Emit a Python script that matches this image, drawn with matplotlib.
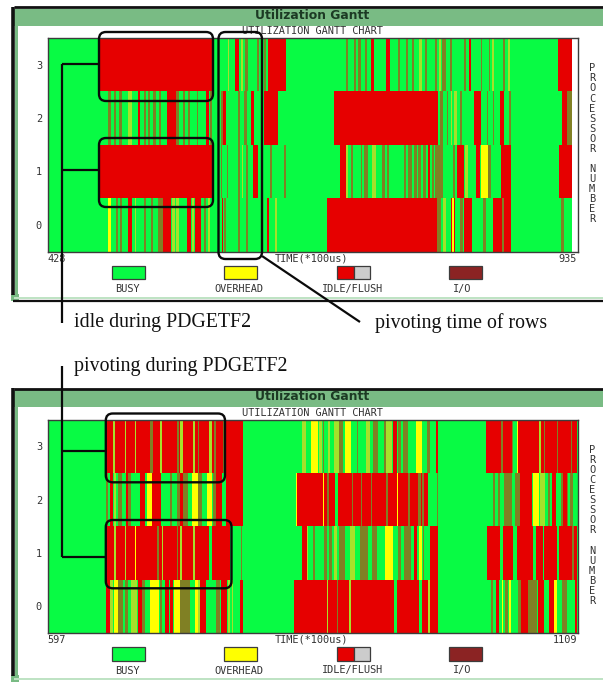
import matplotlib
matplotlib.use("Agg")
import matplotlib.pyplot as plt
from matplotlib.patches import FancyBboxPatch, Rectangle

# ---------- data: (start, end) in TIME units (*100us) ----------
A_START, A_END = 428, 935
B_START, B_END = 597, 1109
PROCESSORS = [0, 1, 2, 3]
LEGEND_LABELS = ["BUSY", "OVERHEAD", "IDLE/FLUSH", "I/O"]

# upper chart
A3_RED = [(478, 587.7), (609.3, 613.1), (641.5, 659), (740.7, 744), (755.2, 759.1), (835.5, 837.4), (921.8, 934.7)]
A3_OLIVE = [(619, 621.5), (630.5, 632.5), (637.6, 639.5), (716.2, 718.2), (724.6, 725.9), (728.5, 730.7), (734.9, 736.5),
            (767.2, 769.1), (774.2, 776.2), (780, 782), (792.9, 794.5), (802.6, 804.2), (809, 813), (817, 819.3),
            (830.6, 832.6), (846.7, 847.7), (854.8, 855.8), (868.6, 870.3)]
A3_LIME = [(602.2, 603.5), (615, 616.5), (787, 789.7), (806.5, 808.4), (858, 859.3), (873.5, 875.1)]
A3_YELLOW = []

A2_RED = [(515.8, 517.7), (543.5, 551.9), (580.9, 584.1), (598, 600.2), (624.4, 627.6), (637, 651), (705.3, 805.8),
          (840, 846.7), (865.7, 869.6), (925, 930.2)]
A2_OLIVE = [(486.8, 489.4), (492.6, 494.2), (497.1, 499.7), (521.3, 523.2), (525.5, 527.4), (530.3, 532.6), (536.1, 537.4),
            (552.6, 555.1), (559, 561), (564.2, 565.8), (572.2, 573.8), (584.8, 586.7), (595.7, 597.3), (611.8, 614.1),
            (617.6, 620.5), (807.4, 810.6), (813.9, 815.5), (826.8, 829), (852.9, 854.1), (858.6, 859.6), (874.1, 875.7),
            (930.2, 934.7)]
A2_LIME = [(505.5, 509.4), (818, 819.3), (821.3, 823.5)]
A2_YELLOW = []

A1_RED = [(478, 587.7), (626.3, 631.2), (711.1, 716.2), (795.5, 797.8), (824.2, 830.6), (841.9, 846.1), (866.4, 875.7), (922.8, 934.7)]
A1_OLIVE = [(595.7, 597), (601.2, 602.5), (612.5, 614.1), (620.2, 621.5), (642.8, 644.7), (656.6, 658.2), (721.4, 723.7),
            (731, 732.4), (734.3, 737.5), (751, 754.3), (755.9, 758.1), (773, 774.2), (776.2, 780), (782.3, 784.9),
            (786.5, 789), (791, 793.6), (799.4, 802), (802.6, 810.6), (820.3, 821.9), (854.1, 856.7)]
A1_LIME = [(615.7, 617), (716.2, 718.2), (741.4, 745.2), (831.6, 834.2)]
A1_YELLOW = [(847, 853.5)]

A0_RED = [(506.2, 510), (540, 547), (562.5, 566.4), (570.6, 576), (596.4, 598), (639.9, 642.4), (698.2, 804.2),
          (818, 822), (831, 838.7), (859, 867.7), (869.6, 875.7)]
A0_OLIVE = [(493.9, 495.8), (498, 500.3), (521.3, 523.2), (528, 530), (535.2, 539.3), (579.6, 581.5), (599, 600.2),
            (612.5, 614.1), (619.9, 622.1), (804.8, 808.4), (827, 830), (848.7, 851.9), (867.7, 869.6), (924.4, 927.6)]
A0_LIME = [(512.6, 514), (548.7, 551.3), (552.2, 555.5), (567.4, 569.6), (583.5, 585.4), (647.9, 649.9), (810.3, 812.9)]
A0_YELLOW = [(486.8, 489.1), (819, 820.5)]

# lower chart
B3_RED = [(653.5, 786.2), (931.1, 934.6), (972, 974.6), (1020.9, 1045.4), (1050.2, 1108.2)]
B3_OLIVE = [(696, 698.6), (721.8, 724.4), (742.1, 743.4), (757.9, 759.5), (766.9, 769.1), (863.1, 864.4), (878.6, 882.8),
            (895.7, 897.3), (911.8, 916), (922.4, 924.3), (935.3, 938.5), (940.1, 944.9), (963.3, 966.5), (1035.1, 1036.7),
            (1045.4, 1047), (1076.3, 1077.6), (1088.9, 1090.5), (1102.4, 1104)]
B3_LIME = [(660.6, 661.9), (671.9, 673.2), (681.5, 682.8), (705.7, 707.3), (725, 727.6), (737.9, 739.2), (753, 755.6),
           (843.2, 846.4), (859.3, 861.8), (867.6, 869.6), (874.1, 878.6), (904.3, 908.5), (924.3, 930.1), (1071.8, 1073.7)]
B3_YELLOW = [(852, 858), (884.4, 890.2), (952.6, 958.4), (1050.5, 1051.8)]
B3_GREEN = []

B2_RED = [(657.4, 660.6), (673, 675), (686.4, 691.2), (698.3, 706.3), (725, 728.2), (760, 765.3), (769.1, 786.2),
          (836.7, 964.9), (1053.4, 1064.7), (1084, 1087.9), (1095, 1099)]
B2_OLIVE = [(653.5, 655.8), (664.8, 668.7), (672.8, 673), (675, 677.7), (715.4, 717), (721.8, 725), (728.2, 733.1),
            (742.1, 746), (757.2, 760), (867, 869), (890.8, 892.1), (899.5, 900.5), (909.5, 910.8), (923.7, 925.6),
            (945.6, 947.2), (955.2, 957.8), (959.1, 961), (973, 974.6), (1027.3, 1029.3), (1032.5, 1034.1),
            (1038.3, 1045.4), (1048.6, 1053.4), (1080.8, 1082.7), (1093, 1095), (1099, 1100.1), (1101.7, 1105)]
B2_LIME = [(661.2, 662.8), (1072.7, 1077.6)]
B2_YELLOW = [(692.8, 697.6), (736.3, 742.1), (751.4, 755.6), (836.7, 837.7), (863.1, 864.4), (934.6, 935.6), (1066.3, 1071.8)]
B2_GREEN = [(874.7, 878)]

B1_RED = [(653.5, 773.3), (842.5, 847.4), (951.4, 953.6), (966.5, 974.6), (1021.2, 1034.1), (1036.7, 1047), (1050.5, 1066.3),
          (1068.6, 1075.3), (1076.3, 1088.9), (1091.4, 1108.2)]
B1_OLIVE = [(702.5, 705.1), (721.8, 722.8), (783.9, 785.2), (853.8, 855.4), (864.4, 867), (869, 871.5), (878.6, 884.4),
            (898.9, 906.3), (910.1, 915), (935.9, 938.5), (941.7, 948.1), (959.4, 961), (1103.3, 1105.3)]
B1_LIME = [(661.6, 662.9), (671.9, 673.2), (707.3, 708.6), (725, 726.6), (737.9, 739.5), (847.7, 849), (874.1, 876.7), (889.2, 894)]
B1_YELLOW = [(681.5, 682.8), (923, 931.1), (955.9, 958.4)]
B1_GREEN = [(753, 756.2)]

B0_RED = [(653.5, 657.4), (684.8, 688), (710.5, 714.4), (715.4, 718.6), (744.3, 749.8), (764.6, 770.1), (783, 786.2),
          (835.5, 964.2), (966.5, 974.6), (1029.9, 1033.1), (1054.4, 1061.5), (1071.1, 1076.3), (1081.4, 1086.6), (1106.6, 1108.2)]
B0_OLIVE = [(665.4, 670.3), (672, 675.2), (688.6, 691.2), (705.6, 708), (725, 734.7), (759.5, 763.7), (876.3, 878),
            (1025.4, 1027.3), (1039, 1042.2), (1051.2, 1054.4), (1061.5, 1069.5), (1093.7, 1098.5)]
B0_LIME = [(657.7, 660.6), (677.7, 683.2), (742.5, 744), (771, 773.3), (774.9, 776.5), (867, 868.3), (888.2, 889.9), (964.2, 966.5)]
B0_YELLOW = [(661.6, 664.8), (696, 704.7), (719.5, 725), (739.2, 742.1), (1036, 1037), (1043, 1045), (1086.6, 1088.8)]
B0_GREEN = [(932, 934.6), (955.9, 959.1)]

# ---------- style ----------
GREEN = "#08fb44"; RED = "#e60000"; OLIVE = "#808024"; LIME = "#a6e12a"; YELLOW = "#ffff00"
BROWN = "#8b2323"; GRAY = "#cccccc"; BAR = "#79bb84"; EDGE = "#3c3c3c"; TXT = "#333333"
W, H = 603, 682
MONO = "DejaVu Sans Mono"
SERIF = "Liberation Serif"
FS = 7.4

fig = plt.figure(figsize=(W / 100, H / 100), dpi=100, facecolor="white")
ov = fig.add_axes([0, 0, 1, 1], zorder=5)
ov.set_xlim(0, W); ov.set_ylim(H, 0); ov.axis("off"); ov.patch.set_alpha(0)
bg = fig.add_axes([0, 0, 1, 1], zorder=0)
bg.set_xlim(0, W); bg.set_ylim(H, 0); bg.axis("off")


def spans(ax, row, pairs, color):
    if pairs:
        ax.broken_barh([(a, b - a) for a, b in pairs], (row - 0.5, 1), facecolors=color, edgecolors="none", linewidth=0)


def window(y0, start, end, rows, right_of_span):
    # window frame
    bg.add_patch(Rectangle((14, y0 + 2), W - 14, 17, fc=BAR, ec="none"))
    bg.add_patch(Rectangle((15, y0 + 2), 2.5, 291, fc=BAR, ec="none"))
    bg.add_patch(Rectangle((11, y0 + 287), 8, 7, fc=BAR, ec="none"))
    bg.add_patch(Rectangle((14, y0 + 290), W - 14, 2, fc="#bfe3c4", ec="none"))
    bg.plot([13.5, W], [y0 + 0.5, y0 + 0.5], color="#111111", lw=2, solid_capstyle="butt")
    bg.plot([13, 13], [y0, y0 + 288], color="#111111", lw=2.6, solid_capstyle="butt")
    bg.text(312, y0 + 9, "Utilization Gantt", ha="center", va="center", fontsize=8.9,
            fontweight="bold", family="DejaVu Sans", color="#1c3a24")
    bg.text(312, y0 + 24.5, "UTILIZATION GANTT CHART", ha="center", va="center", fontsize=FS, family=MONO, color=TXT)

    # gantt axes
    left, right, top, bottom = 47.5, 578, y0 + 31.5, y0 + 245
    ax = fig.add_axes([left / W, 1 - bottom / H, (right - left) / W, (bottom - top) / H], zorder=2)
    ax.set_xlim(start, start + (right - left) * right_of_span)
    ax.set_ylim(-0.5, 3.5)
    for row, red, olive, lime, yellow, over in rows:
        spans(ax, row, [(start, end)], GREEN)
        spans(ax, row, red, RED)
        spans(ax, row, over, GREEN)
        spans(ax, row, olive, OLIVE)
        spans(ax, row, lime, LIME)
        spans(ax, row, yellow, YELLOW)
    for s in ax.spines.values():
        s.set_color(EDGE); s.set_linewidth(1)
    ax.set_xticks([])
    ax.set_yticks(PROCESSORS)
    ax.set_yticklabels([str(p) for p in PROCESSORS], fontsize=FS, family=MONO, color=TXT)
    ax.tick_params(axis="y", length=0, pad=4)

    # axis captions
    bg.text(47.5, y0 + 252, str(start), ha="left", va="center", fontsize=FS, family=MONO, color=TXT)
    bg.text(577, y0 + 252, str(end), ha="right", va="center", fontsize=FS, family=MONO, color=TXT)
    bg.text(311, y0 + 252, "TIME(*100us)", ha="center", va="center", fontsize=FS, family=MONO, color=TXT)
    for i, ch in enumerate("PROCESSOR NUMBER"):
        bg.text(592, y0 + 61.8 + i * 10.07, ch, ha="center", va="center", fontsize=FS, family=MONO, color=TXT)

    # legend
    sw_y, sw_h = y0 + 259, 13.5
    for x, c in [(111.5, GREEN), (224, YELLOW), (449, BROWN)]:
        bg.add_patch(Rectangle((x, sw_y), 33, sw_h, fc=c, ec=EDGE, lw=0.9))
    bg.add_patch(Rectangle((336.5, sw_y), 17.5, sw_h, fc=RED, ec=EDGE, lw=0.9))
    bg.add_patch(Rectangle((354, sw_y), 16, sw_h, fc=GRAY, ec=EDGE, lw=0.9))
    for x, t in zip([127, 239, 353, 462], LEGEND_LABELS):
        bg.text(x, y0 + 282.5, t, ha="center", va="center", fontsize=FS, family=MONO, color=TXT)
    return ax


window(6.5, A_START, A_END, [
    (3, A3_RED, A3_OLIVE, A3_LIME, A3_YELLOW, []),
    (2, A2_RED, A2_OLIVE, A2_LIME, A2_YELLOW, []),
    (1, A1_RED, A1_OLIVE, A1_LIME, A1_YELLOW, []),
    (0, A0_RED, A0_OLIVE, A0_LIME, A0_YELLOW, []),
], 0.9666)
window(388, B_START, B_END, [
    (3, B3_RED, B3_OLIVE, B3_LIME, B3_YELLOW, B3_GREEN),
    (2, B2_RED, B2_OLIVE, B2_LIME, B2_YELLOW, B2_GREEN),
    (1, B1_RED, B1_OLIVE, B1_LIME, B1_YELLOW, B1_GREEN),
    (0, B0_RED, B0_OLIVE, B0_LIME, B0_YELLOW, B0_GREEN),
], 0.966)

# bottom border of the upper window
bg.plot([13, W], [300.5, 300.5], color="#111111", lw=1.6, solid_capstyle="butt")

# annotations
for x0, x1, y0, y1 in [(99, 213, 32, 101), (99, 213, 138, 207), (218.5, 262, 32, 259),
                       (105.8, 225, 413.5, 482.3), (105.8, 231.5, 520, 588.3)]:
    ov.add_patch(FancyBboxPatch((x0 + 6, y0 + 6), x1 - x0 - 12, y1 - y0 - 12,
                                boxstyle="round,pad=6,rounding_size=7", fc="none", ec="#0a0a0a", lw=1.7))
LINES = [([61.5, 61.5], [64, 323]), ([61.5, 99], [64, 64]), ([61.5, 99], [170, 170]),
         ([61.5, 61.5], [366, 557]), ([61.5, 105.8], [451, 451]), ([61.5, 105.8], [557, 557]),
         ([262, 360], [256, 322])]
for xs, ys in LINES:
    ov.plot(xs, ys, color="#0a0a0a", lw=1.6, solid_capstyle="butt")
for x, y, t in [(74, 323, "idle during PDGETF2"), (74, 366, "pivoting during PDGETF2"), (375, 323, "pivoting time of rows")]:
    ov.text(x, y, t, ha="left", va="center", fontsize=14.3, family=SERIF, color="#111111")

fig.savefig("out.png", dpi=100, facecolor="white")
